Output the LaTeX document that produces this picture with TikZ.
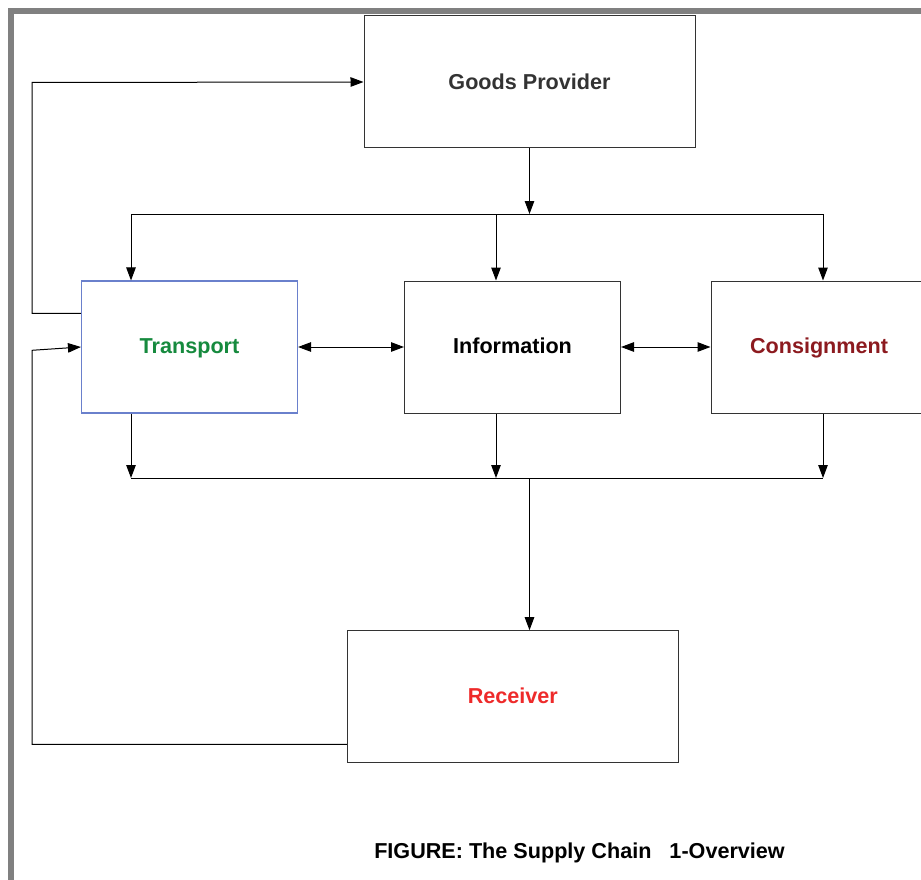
\documentclass[tikz,border=0pt]{standalone}
\usepackage{fontspec}
\setmainfont{Liberation Sans}
\usetikzlibrary{arrows.meta,calc}
\definecolor{framegray}{HTML}{808080}
\definecolor{boxline}{HTML}{333333}
\definecolor{transblue}{HTML}{6A80CC}
\definecolor{goodsgray}{HTML}{333333}
\definecolor{transgreen}{HTML}{168A3E}
\definecolor{consred}{HTML}{8C1A1F}
\definecolor{recvred}{HTML}{EE2A2A}
\tikzset{
  block/.style={draw=boxline, line width=1pt, rectangle, inner sep=0pt,
    minimum width=216pt, minimum height=132pt,
    text height=15.5pt, text depth=2.9pt,
    font=\fontsize{21.6}{24}\selectfont\bfseries},
  wideblock/.style={block, minimum width=331pt},
  link/.style={draw=black, line width=1pt},
  arr/.style={link, -{Triangle[length=13pt,width=9.5pt]}},
  darr/.style={link, {Triangle[length=13pt,width=9.5pt]}-{Triangle[length=13pt,width=9.5pt]}},
}
\begin{document}
\begin{tikzpicture}[x=1pt, y=-1pt]
\useasboundingbox (0,0) rectangle (921,880);
\fill[white] (0,0) rectangle (921,880);
% outer frame, open on the right and at the bottom
\draw[framegray, line width=6pt] (10.7,880) -- (10.7,10.7) -- (921,10.7);

% boxes
\node[wideblock, text=goodsgray, text depth=1pt] (gp) at (529.5,82) {Goods Provider};
\node[block, draw=transblue, line width=1.1pt, text=transgreen] (tr) at (189.5,347) {Transport};
\node[block, text=black] (inf) at (512.5,347) {Information};
\node[block, text=consred] (con) at (819,347) {Consignment};
\node[wideblock, text=recvred] (rc) at (512.8,696.7) {Receiver};

% distribution bus below the goods provider
\coordinate (tj) at (529.5,214);
\coordinate (tl) at (131,214);
\coordinate (tm) at (496,214);
\coordinate (tr2) at (823,214);
\draw[arr] (gp.south) -- (tj);
\draw[link] (tl) -- (tr2);
\draw[arr] (tl) -- (tl |- tr.north);
\draw[arr] (tm) -- (tm |- inf.north);
\draw[arr] (tr2) -- (tr2 |- con.north);

% collection bus above the receiver
\coordinate (bl) at (131,478);
\coordinate (bm) at (496,478);
\coordinate (br) at (823,478);
\coordinate (bj) at (529.5,478);
\draw[arr] (bl |- tr.south) -- (bl);
\draw[arr] (bm |- inf.south) -- (bm);
\draw[arr] (br |- con.south) -- (br);
\draw[link] (bl) -- (br);
\draw[arr] (bj) -- (bj |- rc.north);

% exchanges between the middle row
\draw[darr] (tr.east) -- (inf.west);
\draw[darr] (inf.east) -- (con.west);

% feedback loops on the left
\coordinate (la) at (32,313.3);
\coordinate (lb) at (32,82.5);
\draw[arr] ($(tr.west)+(0,-33.7)$) -- (la) -- (lb) -- (gp.west);
\coordinate (lc) at (32,744.3);
\coordinate (ld) at (32,350.3);
\draw[arr] ($(rc.west)+(0,47.6)$) -- (lc) -- (ld) -- (tr.west);

% caption
\node[font=\fontsize{21.6}{24}\selectfont\bfseries, anchor=base] (cap) at (579.5,858) {FIGURE: The Supply Chain\ \ \ 1-Overview};
\end{tikzpicture}
\end{document}
